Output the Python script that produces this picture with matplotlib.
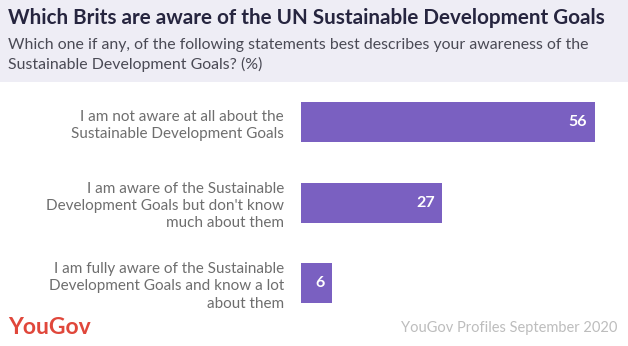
import matplotlib
matplotlib.use("Agg")
import matplotlib.pyplot as plt
from matplotlib.patches import Rectangle

plt.rcParams['font.family'] = ['Lato', 'DejaVu Sans']

categories = [
    "I am not aware at all about the\nSustainable Development Goals",
    "I am aware of the Sustainable\nDevelopment Goals but don't know\nmuch about them",
    "I am fully aware of the Sustainable\nDevelopment Goals and know a lot\nabout them",
]
values = [56, 27, 6]

title = "Which Brits are aware of the UN Sustainable Development Goals"
subtitle = "Which one if any, of the following statements best describes your awareness of the\nSustainable Development Goals? (%)"
source = "YouGov Profiles September 2020"

W, H = 628, 346
fig = plt.figure(figsize=(W / 100, H / 100), dpi=100)
fig.patch.set_facecolor("white")

# header band
fig.add_artist(Rectangle((0, 1 - 82 / H), 1, 82 / H, transform=fig.transFigure,
                         facecolor="#EEEDF5", edgecolor="none", zorder=0))

fig.text(8 / W, 1 - 18 / H, title, fontsize=14.9, fontweight="bold", color="#26253F",
         ha="left", va="center")
fig.text(8 / W, 1 - 55 / H, subtitle, fontsize=11.4, color="#4A4A55",
         ha="left", va="center", linespacing=1.35)

left_px = 300.7
right_px = 620
ax = fig.add_axes([left_px / W, 1 - 323.5 / H, (right_px - left_px) / W, (323.5 - 82) / H])
ax.set_facecolor("none")
px_per_unit = 5.25
ax.set_xlim(0, (right_px - left_px) / px_per_unit)
ax.set_ylim(len(values) - 0.5, -0.5)

ypos = list(range(len(values)))
ax.barh(ypos, values, height=0.5, color="#7A60C1")
for y, v in zip(ypos, values):
    ax.text(v - 1.5, y, str(v), color="white", fontsize=11.5, fontweight="bold",
            ha="right", va="center")

ax.set_yticks(ypos)
ax.set_yticklabels(categories, fontsize=11.0, color="#6E6E6E", linespacing=1.3)
ax.tick_params(axis="y", length=0, pad=12)
ax.set_xticks([])
for s in ax.spines.values():
    s.set_visible(False)

fig.text(8 / W, 1 - 328 / H, "YouGov", fontsize=16.5, fontweight="bold", color="#E0473B",
         ha="left", va="center")
fig.text(617 / W, 1 - 328 / H, source, fontsize=10.5, color="#BDBDBD",
         ha="right", va="center")

fig.savefig("out.png", dpi=100)
